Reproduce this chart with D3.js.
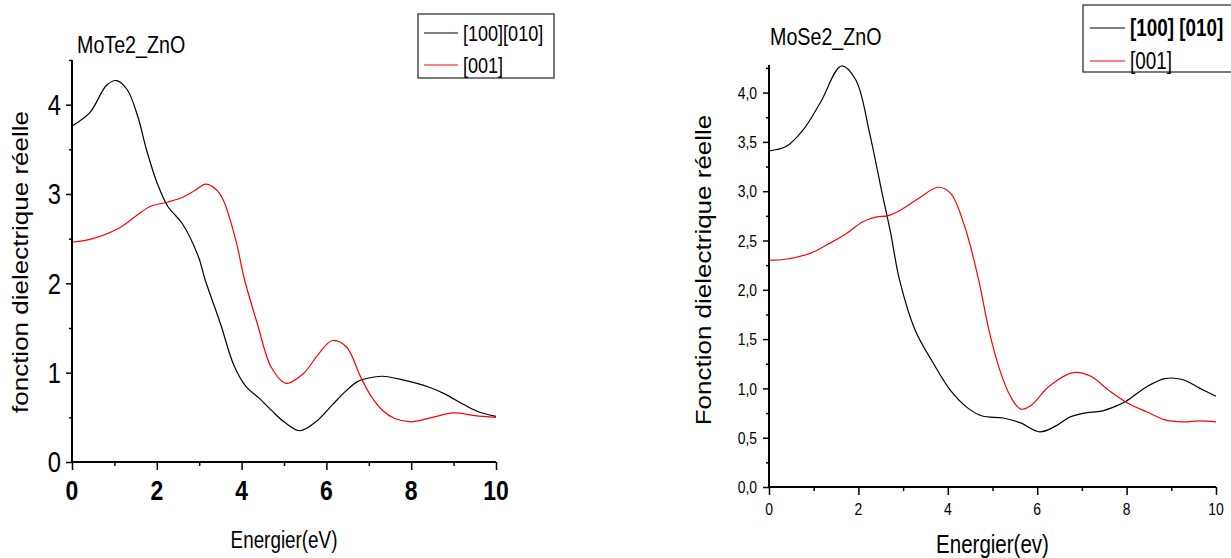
<!DOCTYPE html>
<html><head><meta charset="utf-8">
<script src="https://cdn.jsdelivr.net/npm/d3@7"></script>
<style>
body{margin:0;background:#fff;}
svg{display:block;}
text{font-family:"Liberation Sans",Arial,sans-serif;fill:#000;}
</style></head>
<body><svg id="c" width="1231" height="558"></svg>
<script>
// ---- Data: MoTe2_ZnO ----
const teBlackE = [0,0.42,0.82,1.05,1.3,1.55,1.76,2.01,2.26,2.6,2.98,3.14,3.5,3.82,4.11,4.4,4.7,5.0,5.38,5.75,6.14,6.45,6.73,7.0,7.32,7.8,8.41,8.8,9.25,9.6,10];
const teBlackV = [3.76,3.91,4.22,4.27,4.17,3.87,3.49,3.12,2.86,2.67,2.30,2.04,1.55,1.08,0.84,0.72,0.58,0.45,0.35,0.45,0.64,0.79,0.9,0.94,0.96,0.92,0.84,0.76,0.64,0.56,0.51];
const teRedE = [0,0.49,1.08,1.5,1.84,2.26,2.6,2.9,3.15,3.4,3.57,3.86,4.07,4.37,4.7,5.04,5.46,5.8,6.14,6.47,6.81,7.05,7.32,7.6,7.99,8.5,9.0,9.5,10];
const teRedV = [2.46,2.50,2.61,2.75,2.86,2.91,2.96,3.04,3.11,3.05,2.93,2.49,2.04,1.55,1.06,0.88,0.99,1.2,1.36,1.29,0.95,0.74,0.58,0.49,0.45,0.5,0.55,0.52,0.5];
// ---- Data: MoSe2_ZnO ----
const seBlackE = [0,0.37,0.76,1.15,1.62,1.94,2.25,2.53,2.72,2.92,3.27,3.67,4.06,4.45,4.77,5.24,5.63,6.06,6.42,6.73,7.05,7.44,7.76,7.99,8.46,8.86,9.25,9.64,10];
const seBlackV = [3.41,3.45,3.62,3.9,4.27,4.13,3.59,2.98,2.58,2.10,1.59,1.26,0.98,0.80,0.72,0.70,0.65,0.56,0.62,0.71,0.75,0.77,0.82,0.87,1.02,1.10,1.09,1.0,0.92];
const seRedE = [0,0.37,0.92,1.31,1.70,2.10,2.41,2.65,2.95,3.36,3.78,4.06,4.38,4.69,4.92,5.16,5.40,5.63,5.87,6.26,6.81,7.21,7.60,7.99,8.46,8.86,9.25,9.64,10];
const seRedV = [2.30,2.31,2.37,2.46,2.56,2.69,2.74,2.75,2.81,2.93,3.04,2.98,2.64,2.10,1.59,1.19,0.92,0.79,0.83,1.02,1.16,1.12,0.98,0.86,0.76,0.68,0.66,0.67,0.66];

const xTicks = [0,2,4,6,8,10];
const xMinor = [1,3,5,7,9];
const teYTicks = [0,1,2,3,4];
const teYMinor = [0.5,1.5,2.5,3.5,4.5];
const seYTicks = [0,0.5,1,1.5,2,2.5,3,3.5,4];
const seYTickLabels = ["0,0","0,5","1,0","1,5","2,0","2,5","3,0","3,5","4,0"];
const seYMinor = [0.25,0.75,1.25,1.75,2.25,2.75,3.25,3.75,4.25];
const legendLabels = ["[100][010]","[001]"];
const legendLabels2 = ["[100] [010]","[001]"];
const colors = ["#000000","#ff0000"];

const SX = 0.82; // horizontal squeeze of the original picture's lettering
const svg = d3.select("#c");
svg.append("rect").attr("width",1231).attr("height",558).attr("fill","#fff");

function zip(e,v){return e.map((d,i)=>[d,v[i]]);}
function txt(g,x,y,s,size,anchor,weight,dy){
  return g.append("text").attr("transform",`translate(${x},${y}) scale(${SX},1)`)
    .attr("text-anchor",anchor||"start").attr("font-size",size)
    .attr("font-weight",weight||"normal").attr("dy",dy||0).text(s);
}

function panel(o){
  const g = svg.append("g");
  const x = d3.scaleLinear().domain([0,10]).range([o.x0,o.x1]);
  const y = d3.scaleLinear().domain([0,o.ymax]).range([o.y0,o.y1]);
  const line = d3.line().x(d=>x(d[0])).y(d=>y(d[1])).curve(d3.curveCatmullRom.alpha(0.5));
  o.series.forEach((s,i)=>{
    g.append("path").datum(s).attr("d",line).attr("fill","none")
      .attr("stroke",colors[i]).attr("stroke-width",1.2);
  });
  // x axis
  const xa = g.append("g").attr("transform",`translate(0,${o.y0})`)
    .call(d3.axisBottom(x).tickValues(xTicks).tickSize(8).tickFormat(""));
  xa.select(".domain").attr("stroke-width",2).attr("d",`M${o.x0-1},0H${o.x1}`);
  xa.selectAll(".tick line").attr("stroke-width",1.5);
  g.append("g").attr("transform",`translate(0,${o.y0})`)
    .call(d3.axisBottom(x).tickValues(xMinor).tickSize(4).tickFormat(""))
    .call(a=>a.select(".domain").remove()).selectAll("line").attr("stroke-width",1.5);
  xTicks.forEach(d=>txt(g,x(d),o.xlabY,String(d),o.xlabSize,"middle",o.xlabWeight));
  // y axis
  const ya = g.append("g").attr("transform",`translate(${o.x0},0)`)
    .call(d3.axisLeft(y).tickValues(o.yTicks).tickSize(6).tickFormat(""));
  ya.select(".domain").attr("stroke-width",2).attr("d",`M0,${o.y0+1}V${o.y1}`);
  ya.selectAll(".tick line").attr("stroke-width",1.5);
  g.append("g").attr("transform",`translate(${o.x0},0)`)
    .call(d3.axisLeft(y).tickValues(o.yMinor).tickSize(3).tickFormat(""))
    .call(a=>a.select(".domain").remove()).selectAll("line").attr("stroke-width",1.5);
  o.yTicks.forEach((d,i)=>txt(g,o.ylabX,y(d),o.yLabels[i],o.ylabSize,"end","normal","0.36em"));
  // titles
  txt(g,o.titleX,o.titleY,o.title,24,"start");
  txt(g,(o.x0+o.x1)/2,o.xtY,o.xTitle,o.xtSize,"middle");
  g.append("text").attr("transform",`translate(${o.ytX},${o.ytY}) scale(${SX},1) rotate(-90)`)
    .attr("text-anchor","middle").attr("font-size",26).text(o.yTitle);
  // legend
  const L = o.legend;
  g.append("rect").attr("x",L.x).attr("y",L.y).attr("width",L.w).attr("height",L.h)
    .attr("fill","none").attr("stroke","#222").attr("stroke-width",1.2);
  L.labels.forEach((t,i)=>{
    const ly = L.rows[i];
    g.append("line").attr("x1",L.lx0).attr("x2",L.lx1).attr("y1",ly).attr("y2",ly)
      .attr("stroke",colors[i]).attr("stroke-width",1.2);
    txt(g,L.tx,ly,t,L.size,"start",(L.bold && i===0)?"bold":"normal","0.36em");
  });
}

panel({x0:72,x1:496,y0:462,y1:60,ymax:4.5,
  series:[zip(teBlackE,teBlackV),zip(teRedE,teRedV)],
  yTicks:teYTicks,yMinor:teYMinor,yLabels:teYTicks.map(String),
  xlabY:500,xlabSize:28,xlabWeight:"bold",ylabX:61,ylabSize:29,
  title:"MoTe2_ZnO",titleX:77,titleY:53,
  xTitle:"Energier(eV)",xtY:548,xtSize:23,
  yTitle:"fonction dielectrique réelle",ytX:28,ytY:262,
  legend:{x:418,y:14,w:136,h:64,rows:[33,65],lx0:424,lx1:458,tx:463,size:22,labels:legendLabels,bold:false}
});
panel({x0:769,x1:1216,y0:487,y1:65,ymax:4.28,
  series:[zip(seBlackE,seBlackV),zip(seRedE,seRedV)],
  yTicks:seYTicks,yMinor:seYMinor,yLabels:seYTickLabels,
  xlabY:515,xlabSize:17,xlabWeight:"normal",ylabX:757,ylabSize:17,
  title:"MoSe2_ZnO",titleX:770,titleY:45,
  xTitle:"Energier(ev)",xtY:553,xtSize:25,
  yTitle:"Fonction dielectrique réelle",ytX:711,ytY:270,
  legend:{x:1083,y:5,w:160,h:67,rows:[28,61],lx0:1090,lx1:1125,tx:1130,size:23,labels:legendLabels2,bold:true}
});
</script></body></html>
